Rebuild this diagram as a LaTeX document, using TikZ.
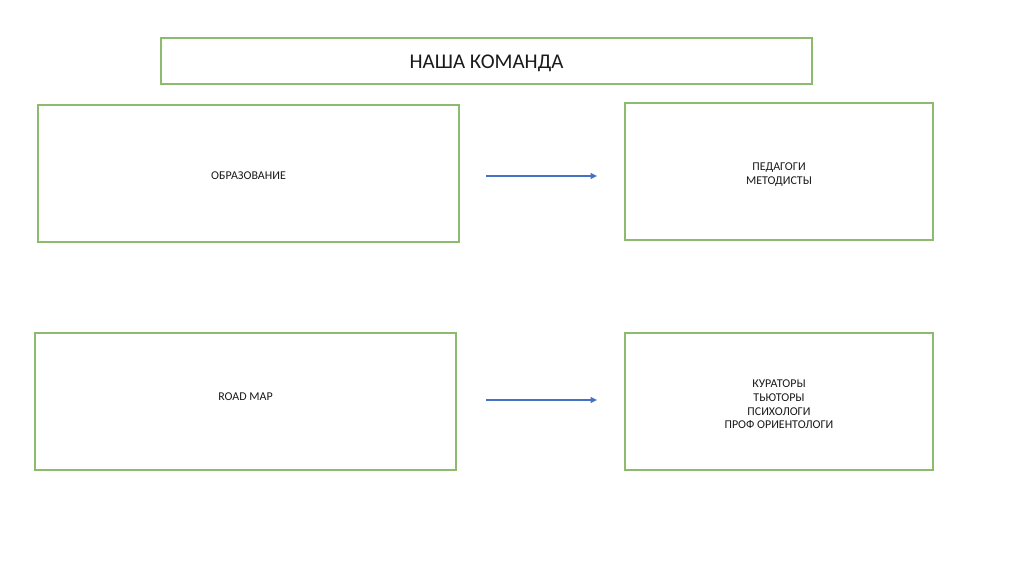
\documentclass[tikz,border=0pt]{standalone}
\usepackage{fontspec}
\setmainfont{Carlito}
\usetikzlibrary{arrows.meta, positioning}
\definecolor{cFrame}{HTML}{8DBB6E}
\definecolor{cArrow}{HTML}{4472C4}
\definecolor{cText}{HTML}{1A1A1A}
% centred lines of a box, shifted up by #1
\newcommand{\boxlines}[2][-2.4pt]{%
  \raisebox{#1}[\height][\depth]{\begin{tabular}{@{}c@{}}#2\end{tabular}}}
\tikzset{
  framebox/.style={
    draw=cFrame, fill=white, line width=1.4pt,
    minimum width=#1, minimum height=3.425cm, inner sep=2pt,
    font=\fontsize{8.5}{9.9}\selectfont, text=cText, align=center,
  },
  framebox/.default=10.525cm,
  arw/.style={-{Triangle[length=4.5pt, width=4pt]}, line width=1.1pt, color=cArrow},
}
\begin{document}
\begin{tikzpicture}[x=0.025cm, y=-0.025cm]
  \useasboundingbox (0,0) rectangle (1024,574);

  % Title
  \node[framebox=16.275cm, minimum height=1.15cm,
        font=\fontsize{14.9}{16}\selectfont] (team) at (486.5,61)
    {\boxlines[-2.1pt]{НАША КОМАНДА}};

  % Left column
  \node[framebox] (edu) at (248.5,173.5) {\boxlines[-2.1pt]{ОБРАЗОВАНИЕ}};
  \node[framebox] (road) at (245.5,401.5) {\boxlines[2.8pt]{ROAD MAP}};

  % Right column
  \node[framebox=7.7cm] (teach) at (779,171.5)
    {\boxlines{ПЕДАГОГИ\\МЕТОДИСТЫ}};
  \node[framebox=7.7cm] (staff) at (779,401.5)
    {\boxlines[-2.7pt]{КУРАТОРЫ\\ТЬЮТОРЫ\\ПСИХОЛОГИ\\ПРОФ ОРИЕНТОЛОГИ}};

  % Arrows
  \draw[arw, shorten <=0.65cm, shorten >=0.675cm]
    ([yshift=-2.5*0.025cm]edu.east) -- ([yshift=-2.5*0.025cm]edu.east -| teach.west);
  \draw[arw, shorten <=0.725cm, shorten >=0.675cm]
    ([yshift=1.5*0.025cm]road.east) -- ([yshift=1.5*0.025cm]staff.west);
\end{tikzpicture}
\end{document}
